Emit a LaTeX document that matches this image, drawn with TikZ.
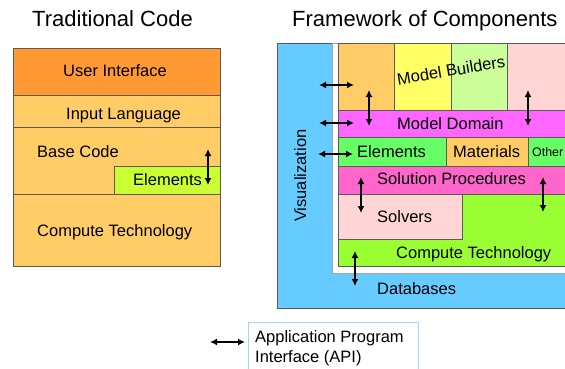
\documentclass[tikz,border=0pt]{standalone}
\usepackage{fontspec}
\setmainfont{Liberation Sans}
\usetikzlibrary{arrows.meta}
\definecolor{uiorange}{HTML}{FF9933}
\definecolor{lorange}{HTML}{FFCC66}
\definecolor{limeg}{HTML}{CCFF33}
\definecolor{skyb}{HTML}{66CCFF}
\definecolor{yel}{HTML}{FFFF66}
\definecolor{lgreen}{HTML}{CCFF99}
\definecolor{lpink}{HTML}{FFD5D5}
\definecolor{magen}{HTML}{FF66FF}
\definecolor{greenA}{HTML}{66FF66}
\definecolor{hpink}{HTML}{FF66CC}
\definecolor{ygreen}{HTML}{99FF33}
\definecolor{edgec}{HTML}{5A5A5A}
\definecolor{legb}{HTML}{A8D4F0}
\tikzset{
  box/.style={draw=edgec, line width=0.8pt},
  lbl/.style={font=\fontsize{16.5}{19}\selectfont, inner sep=0pt, anchor=base west},
  ttl/.style={font=\fontsize{22}{26}\selectfont, inner sep=0pt, anchor=base west},
  api/.style={{Latex[length=7pt,width=7pt]}-{Latex[length=7pt,width=7pt]}, line width=1.9pt},
}
\begin{document}
\begin{tikzpicture}[x=1pt,y=-1pt]
\useasboundingbox (0,0) rectangle (565,369);
\fill[white] (0,0) rectangle (565,369);
\begin{scope}
\clip (0,0) rectangle (565,369);
% ---- Traditional code ----
\node[ttl] (ttlA) at (32,27) {Traditional Code};
\draw[box, fill=uiorange] (13,48) rectangle (220,95);
\draw[box, fill=lorange] (13,95) rectangle (220,127);
\draw[box, fill=lorange] (13,127) rectangle (220,194);
\draw[box, fill=limeg] (114,166) rectangle (220,194);
\draw[box, fill=lorange] (13,194) rectangle (220,266);
\node[lbl] (ui) at (63,77) {User Interface};
\node[lbl] (il) at (66,119) {Input Language};
\node[lbl] (bc) at (37,157) {Base Code};
\node[lbl] (elA) at (133,185) {Elements};
\node[lbl] (ctA) at (37,236) {Compute Technology};
\coordinate (a1s) at (208,149); \coordinate (a1e) at (208,185);
\draw[api] (a1s) -- (a1e);
% ---- Framework ----
\node[ttl] (ttlB) at (292,27) {Framework of Components};
\draw[box, fill=skyb] (277,43) rectangle (620,308);
\draw[draw=gray!70, fill=white, line width=0.8pt] (332,43) rectangle (620,273);
\draw[box, fill=lorange] (338,43) rectangle (394,110);
\draw[box, fill=yel] (394,43) rectangle (451,110);
\draw[box, fill=lgreen] (451,43) rectangle (507,110);
\draw[box, fill=lpink] (507,43) rectangle (620,110);
\draw[box, fill=magen] (338,110) rectangle (620,137);
\draw[box, fill=greenA] (338,137) rectangle (446,166);
\draw[box, fill=lorange] (446,137) rectangle (528,166);
\draw[box, fill=greenA] (528,137) rectangle (620,166);
\draw[box, fill=hpink] (338,166) rectangle (620,194);
\draw[box, fill=ygreen] (338,194) rectangle (620,266);
\draw[box, fill=lpink] (338,194) rectangle (462,239);
\node[lbl, anchor=base, rotate=9.5] (mb) at (452,76) {Model Builders};
\node[lbl] (md) at (397,129) {Model Domain};
\node[lbl] (elB) at (357,157) {Elements};
\node[lbl] (mat) at (453,157) {Materials};
\node[lbl, font=\fontsize{12.4}{14}\selectfont] (oth) at (532,156) {Other};
\node[lbl] (sp) at (377,184) {Solution Procedures};
\node[lbl] (sv) at (377,222) {Solvers};
\node[lbl] (ctB) at (396,258) {Compute Technology};
\node[lbl] (db) at (377,294) {Databases};
\node[lbl, rotate=90] (vis) at (306,222) {Visualization};
\coordinate (r1s) at (319,85);  \coordinate (r1e) at (354,85);
\coordinate (r2s) at (319,123); \coordinate (r2e) at (354,123);
\coordinate (r3s) at (318,154); \coordinate (r3e) at (353,154);
\coordinate (v1s) at (369,90);  \coordinate (v1e) at (369,126);
\coordinate (v2s) at (528,90);  \coordinate (v2e) at (528,126);
\coordinate (v3s) at (361,177); \coordinate (v3e) at (361,213);
\coordinate (v4s) at (543,177); \coordinate (v4e) at (543,212);
\coordinate (v5s) at (355,251); \coordinate (v5e) at (355,286);
\draw[api] (r1s) -- (r1e);
\draw[api] (r2s) -- (r2e);
\draw[api] (r3s) -- (r3e);
\draw[api] (v1s) -- (v1e);
\draw[api] (v2s) -- (v2e);
\draw[api] (v3s) -- (v3e);
\draw[api] (v4s) -- (v4e);
\draw[api] (v5s) -- (v5e);
% ---- Legend ----
\draw[draw=legb, fill=white, line width=0.8pt] (248,322) rectangle (418,380);
\node[lbl] (leg1) at (255,342) {Application Program};
\node[lbl] (leg2) at (255,362) {Interface (API)};
\coordinate (ls) at (210,342); \coordinate (le) at (245,342);
\draw[api] (ls) -- (le);
\end{scope}
\end{tikzpicture}
\end{document}
